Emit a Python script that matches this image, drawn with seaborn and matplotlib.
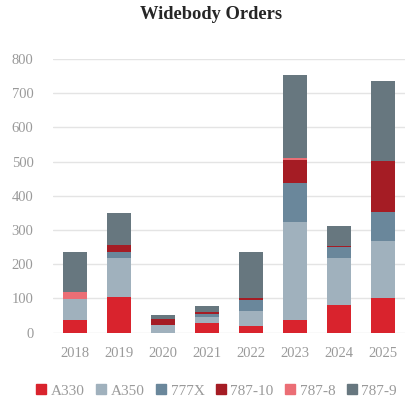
import numpy as np
import pandas as pd
import matplotlib
matplotlib.use("Agg")
import matplotlib.pyplot as plt
from matplotlib.patches import Patch
import seaborn as sns

years = ["2018", "2019", "2020", "2021", "2022", "2023", "2024", "2025"]
a330 = [37, 104, 0, 29, 19, 37, 82, 102]
a350 = [61, 113, 22, 17, 44, 286, 137, 166]
b777x = [0, 19, 0, 10, 34, 116, 31, 84]
b787_10 = [0, 19, 19, 5, 3, 66, 4, 151]
b787_8 = [22, 0, 0, 0, 0, 6, 0, 0]
b787_9 = [116, 94, 10, 17, 136, 243, 59, 232]

series = ["A330", "A350", "777X", "787-10", "787-8", "787-9"]
colors = ["#D9232D", "#A0B1BD", "#6A879B", "#A51C24", "#EB6E75", "#67777F"]

sns.set_style("white")
plt.rcParams["font.family"] = ["Liberation Serif", "DejaVu Serif"]

df = pd.DataFrame({"year": years, "A330": a330, "A350": a350, "777X": b777x,
                   "787-10": b787_10, "787-8": b787_8, "787-9": b787_9})
# cumulative heights, drawn top series first so lower ones cover them
cum = df[series].cumsum(axis=1)

fig = plt.figure(figsize=(4.05, 4.03), dpi=100)
ax = fig.add_axes([53 / 405, 1 - 332.7 / 403, 1 - 53 / 405, (332.7 - 59) / 403])

for name, c in reversed(list(zip(series, colors))):
    sns.barplot(x=df["year"], y=cum[name], color=c, width=0.56, ax=ax,
                saturation=1, edgecolor="none", zorder=3, legend=False)

ax.set_ylim(0, 800)
ax.set_xlim(-0.5, 7.5)
ax.set_yticks(range(0, 801, 100))
ax.yaxis.grid(True, color="#E4E4E4", linewidth=1, zorder=0)
ax.set_axisbelow(True)
for s in ax.spines.values():
    s.set_visible(False)
ax.set_xlabel("")
ax.set_ylabel("")
ax.tick_params(axis="both", length=0, labelsize=10.5, labelcolor="#9A9A9A")
ax.tick_params(axis="y", pad=14)
ax.tick_params(axis="x", pad=10)

fig.suptitle("Widebody Orders", fontsize=13.3, fontweight="bold", y=0.985,
             x=0.52)

handles = [Patch(color=c) for c in colors]
fig.legend(handles, series, loc="center",
           bbox_to_anchor=(0.535, 1 - 391 / 403), ncol=6, frameon=False,
           fontsize=11, handlelength=0.65, handleheight=0.65,
           handletextpad=0.3, columnspacing=0.75, labelcolor="#9A9A9A")

fig.savefig("out.png", dpi=100)
